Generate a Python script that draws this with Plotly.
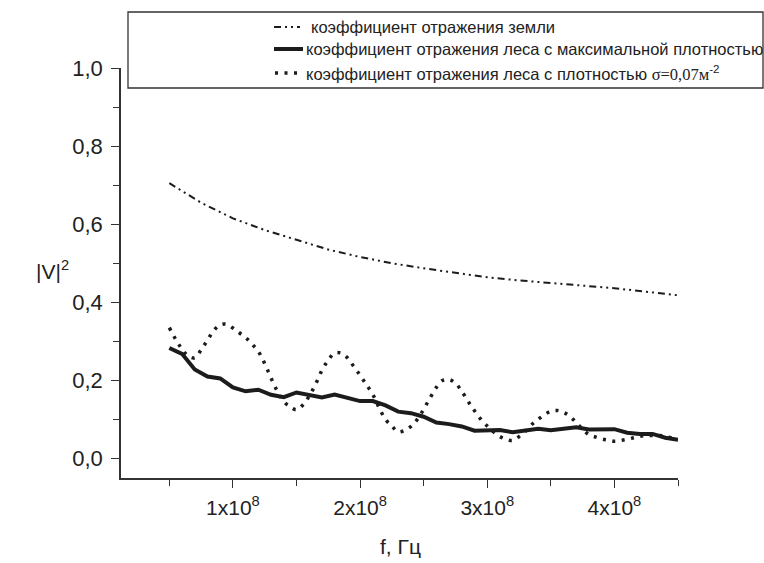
import plotly.graph_objects as go

# ---- data ----
f_ground = [0.5e8, 0.75e8, 1.0e8, 1.25e8, 1.5e8, 1.75e8, 2.0e8, 2.25e8, 2.5e8,
            2.75e8, 3.0e8, 3.25e8, 3.5e8, 3.75e8, 4.0e8, 4.25e8, 4.5e8]
v_ground = [0.705, 0.655, 0.615, 0.585, 0.560, 0.535, 0.516, 0.500, 0.487,
            0.475, 0.464, 0.456, 0.449, 0.442, 0.436, 0.427, 0.418]

f_forest_max = [0.5e8, 0.6e8, 0.7e8, 0.8e8, 0.9e8, 1.0e8, 1.1e8, 1.2e8, 1.3e8, 1.4e8,
                1.5e8, 1.6e8, 1.7e8, 1.8e8, 1.9e8, 2.0e8, 2.1e8, 2.2e8, 2.3e8, 2.4e8,
                2.5e8, 2.6e8, 2.7e8, 2.8e8, 2.9e8, 3.0e8, 3.1e8, 3.2e8, 3.3e8, 3.4e8,
                3.5e8, 3.6e8, 3.7e8, 3.8e8, 3.9e8, 4.0e8, 4.1e8, 4.2e8, 4.3e8, 4.4e8, 4.5e8]
v_forest_max = [0.283, 0.268, 0.228, 0.210, 0.205, 0.182, 0.172, 0.176, 0.163, 0.157,
                0.169, 0.162, 0.156, 0.164, 0.156, 0.147, 0.147, 0.136, 0.120, 0.116,
                0.107, 0.092, 0.088, 0.082, 0.071, 0.073, 0.073, 0.067, 0.072, 0.076,
                0.072, 0.077, 0.080, 0.074, 0.075, 0.075, 0.066, 0.063, 0.063, 0.053, 0.048]

f_forest_007 = [0.50e8, 0.55e8, 0.60e8, 0.65e8, 0.70e8, 0.75e8, 0.80e8, 0.85e8, 0.90e8, 0.95e8,
                1.00e8, 1.05e8, 1.10e8, 1.15e8, 1.20e8, 1.25e8, 1.30e8, 1.35e8, 1.40e8, 1.45e8,
                1.50e8, 1.55e8, 1.60e8, 1.65e8, 1.70e8, 1.75e8, 1.80e8, 1.85e8, 1.90e8, 1.95e8,
                2.00e8, 2.05e8, 2.10e8, 2.15e8, 2.20e8, 2.25e8, 2.30e8, 2.35e8, 2.40e8, 2.45e8,
                2.50e8, 2.55e8, 2.60e8, 2.65e8, 2.70e8, 2.75e8, 2.80e8, 2.85e8, 2.90e8, 2.95e8,
                3.00e8, 3.05e8, 3.10e8, 3.15e8, 3.20e8, 3.25e8, 3.30e8, 3.35e8, 3.40e8, 3.45e8,
                3.50e8, 3.55e8, 3.60e8, 3.65e8, 3.70e8, 3.75e8, 3.80e8, 3.85e8, 3.90e8, 3.95e8,
                4.00e8, 4.05e8, 4.10e8, 4.15e8, 4.20e8, 4.25e8, 4.30e8, 4.35e8, 4.40e8, 4.45e8, 4.50e8]
v_forest_007 = [0.335, 0.305, 0.280, 0.262, 0.258, 0.278, 0.303, 0.328, 0.342, 0.344,
                0.334, 0.322, 0.310, 0.293, 0.274, 0.243, 0.206, 0.172, 0.146, 0.132,
                0.125, 0.137, 0.160, 0.190, 0.226, 0.252, 0.270, 0.270, 0.258, 0.236,
                0.213, 0.189, 0.164, 0.130, 0.100, 0.083, 0.068, 0.072, 0.082, 0.100,
                0.126, 0.155, 0.182, 0.200, 0.202, 0.193, 0.172, 0.146, 0.122, 0.100,
                0.083, 0.068, 0.056, 0.049, 0.046, 0.056, 0.070, 0.087, 0.100, 0.112,
                0.121, 0.123, 0.118, 0.108, 0.092, 0.075, 0.061, 0.055, 0.050, 0.047,
                0.044, 0.046, 0.049, 0.053, 0.057, 0.059, 0.059, 0.059, 0.057, 0.053, 0.050]

x_tickvals = [1e8, 2e8, 3e8, 4e8]
x_ticktext = ["1x10<sup>8</sup>", "2x10<sup>8</sup>", "3x10<sup>8</sup>", "4x10<sup>8</sup>"]
x_minor = [0.5e8, 1.5e8, 2.5e8, 3.5e8, 4.5e8]
y_tickvals = [0.0, 0.2, 0.4, 0.6, 0.8, 1.0]
y_ticktext = ["0,0", "0,2", "0,4", "0,6", "0,8", "1,0"]
y_minor = [0.1, 0.3, 0.5, 0.7, 0.9]

legend_labels = [
    "коэффициент отражения земли",
    "коэффициент отражения леса с максимальной плотностью",
    "коэффициент отражения леса с плотностью "
    "<span style='font-family:Liberation Serif, Times New Roman, serif'>σ=0,07м</span>"
    "<sup>-2</sup>",
]

# ---- layout geometry ----
W, H = 764, 563
L, R, T, B = 121, 86, 68, 85
PW, PH = W - L - R, H - T - B


def px(xp):
    return (xp - L) / PW


def py(yp):
    return (H - B - yp) / PH


INK = "#1c1c1c"
AX = "#333333"
TXT = "#222222"
FONT = "Liberation Sans, Arial, sans-serif"
DASH_GROUND = "7px,4px,2px,4px,2px,4px"
DASH_DOTS = "3px,6.5px"

fig = go.Figure()
fig.add_trace(go.Scatter(x=f_ground, y=v_ground, mode="lines",
                         line=dict(color=INK, width=2, dash=DASH_GROUND),
                         showlegend=False, hoverinfo="skip"))
fig.add_trace(go.Scatter(x=f_forest_max, y=v_forest_max, mode="lines",
                         line=dict(color=INK, width=4),
                         showlegend=False, hoverinfo="skip"))
fig.add_trace(go.Scatter(x=f_forest_007, y=v_forest_007, mode="lines",
                         line=dict(color=INK, width=3.5, dash=DASH_DOTS, shape="spline"),
                         showlegend=False, hoverinfo="skip"))

axis_common = dict(showline=True, linecolor=AX, linewidth=1.5, mirror=False,
                   showgrid=False, zeroline=False, ticks="outside", ticklen=8,
                   tickwidth=1.3, tickcolor=AX)

fig.update_xaxes(range=[1.2e7, 4.5e8], tickmode="array", tickvals=x_tickvals,
                 ticktext=x_ticktext, ticklabelstandoff=2,
                 tickfont=dict(family=FONT, size=21, color=TXT),
                 minor=dict(tickmode="array", tickvals=x_minor, ticks="outside",
                            ticklen=6, tickwidth=1.3, tickcolor=AX),
                 **axis_common)
fig.update_yaxes(range=[-0.05, 1.0], tickmode="array", tickvals=y_tickvals,
                 ticktext=y_ticktext, ticklabelstandoff=4,
                 tickfont=dict(family=FONT, size=22, color=TXT),
                 minor=dict(tickmode="array", tickvals=y_minor, ticks="outside",
                            ticklen=6, tickwidth=1.3, tickcolor=AX),
                 **axis_common)

shapes = []
annotations = []

# legend box
shapes.append(dict(type="rect", xref="paper", yref="paper",
                   x0=px(128), x1=px(763), y0=py(88), y1=py(12),
                   line=dict(color=AX, width=1.3), fillcolor="rgba(0,0,0,0)"))

rows_y = [27, 49, 73]
samples = [
    dict(x0=274, x1=300, width=2, dash=DASH_GROUND, text_x=309),
    dict(x0=274, x1=303, width=4, dash="solid", text_x=304),
    dict(x0=275, x1=302, width=3.5, dash=DASH_DOTS, text_x=304),
]
for yrow, s, label in zip(rows_y, samples, legend_labels):
    shapes.append(dict(type="line", xref="paper", yref="paper",
                       x0=px(s["x0"]), x1=px(s["x1"]), y0=py(yrow), y1=py(yrow),
                       line=dict(color=INK, width=s["width"], dash=s["dash"])))
    annotations.append(dict(xref="paper", yref="paper", x=px(s["text_x"]), y=py(yrow),
                            xanchor="left", yanchor="middle", showarrow=False,
                            text=label, font=dict(family=FONT, size=16.5, color=TXT)))

# axis titles
annotations.append(dict(xref="paper", yref="paper", x=px(52), y=py(270),
                        xanchor="center", yanchor="middle", showarrow=False,
                        text="|V|<sup>2</sup>", font=dict(family=FONT, size=21, color=TXT)))
annotations.append(dict(xref="paper", yref="paper", x=px(400), y=py(546),
                        xanchor="center", yanchor="middle", showarrow=False,
                        text="f, Гц", font=dict(family=FONT, size=21, color=TXT)))

fig.update_layout(width=W, height=H, margin=dict(l=L, r=R, t=T, b=B),
                  paper_bgcolor="white", plot_bgcolor="white",
                  shapes=shapes, annotations=annotations, showlegend=False)

fig.write_html("out.html", config={"displayModeBar": False},
               post_script="document.body.style.margin='0';"
                           "document.body.style.overflow='hidden';")
